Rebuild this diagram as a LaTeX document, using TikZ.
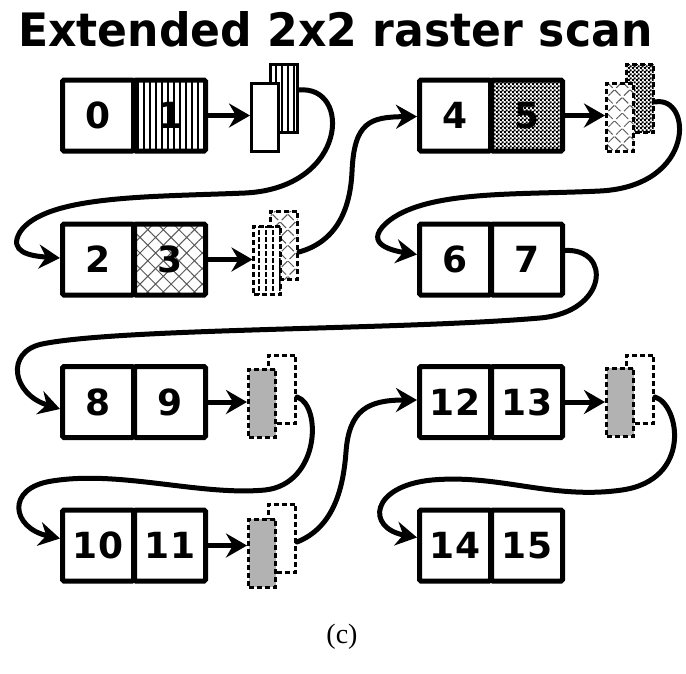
\documentclass[tikz,border=0pt]{standalone}
\usepackage{fontspec}
\usetikzlibrary{arrows.meta,patterns.meta,calc}
\newfontfamily\dv{DejaVu Sans}
\newfontfamily\tnr{Liberation Serif}
\pgfdeclarepattern{
  name=finecheck,
  type=uncolored,
  bottom left={\pgfpoint{0pt}{0pt}},
  top right={\pgfpoint{4pt}{4pt}},
  tile size={\pgfpoint{4pt}{4pt}},
  code={\pgfpathrectangle{\pgfpointorigin}{\pgfpoint{2.4pt}{2.4pt}}\pgfpathrectangle{\pgfpoint{2pt}{2pt}}{\pgfpoint{2.4pt}{2.4pt}}\pgfusepath{fill}}
}
\begin{document}
\begin{tikzpicture}[x=1pt,y=-1pt,
  cell/.style={draw, line width=5pt, rounded corners=1.5pt, minimum width=71pt, minimum height=71pt, inner sep=0pt, font=\dv\bfseries\fontsize{36}{36}\selectfont},
  icon/.style={minimum width=27pt, minimum height=68pt, inner sep=0pt, line width=3pt, draw},
  dicon/.style={icon, dash pattern=on 5pt off 3pt},
  stripes/.style={preaction={fill=white}, pattern={Lines[angle=90,distance=6pt,line width=2.6pt]}},
  widestripes/.style={preaction={fill=white}, pattern={Lines[angle=90,distance=7pt,line width=2pt]}},
  hatch/.style={preaction={fill=white}, pattern={Hatch[angle=45,distance=11pt,line width=1pt]}, pattern color=black!65},
  checker/.style={preaction={fill=white}, pattern=finecheck, pattern color=black},
  grayfill/.style={fill=black!30},
  arr/.style={line width=5pt, -{Stealth[length=21pt,width=24pt,inset=7pt]}},
  conn/.style={line width=5pt, line cap=round, line join=round},
  carr/.style={conn, -{Stealth[length=21pt,width=24pt,inset=7pt]}}
]
\useasboundingbox (0,0) rectangle (686,673);
\node[anchor=base west, inner sep=0pt] (title) at (18,46) {\resizebox{634pt}{35pt}{\dv\bfseries Extended 2x2 raster scan}};

% cells
\node[cell] (c0) at (98,115.5) {0};
\node[cell, stripes] (c1) at (170,115.5) {1};
\node[cell] (c4) at (455,115.5) {4};
\node[cell, checker] (c5) at (527,115.5) {5};
\node[cell] (c2) at (98,259.5) {2};
\node[cell, hatch] (c3) at (170,259.5) {3};
\node[cell] (c6) at (455,259.5) {6};
\node[cell] (c7) at (527,259.5) {7};
\node[cell] (c8) at (98,402) {8};
\node[cell] (c9) at (170,402) {9};
\node[cell] (c12) at (455,402) {12};
\node[cell] (c13) at (527,402) {13};
\node[cell] (c10) at (98,545.5) {10};
\node[cell] (c11) at (170,545.5) {11};
\node[cell] (c14) at (455,545.5) {14};
\node[cell] (c15) at (527,545.5) {15};

% icons
\node[icon, stripes] (b1) at (284,98) {};
\node[icon, fill=white] (f1) at (265,117) {};
\node[dicon, checker] (b3) at (640,98) {};
\node[dicon, hatch] (f3) at (620,117) {};
\node[dicon, hatch] (b2) at (284,245) {};
\node[dicon, widestripes] (f2) at (267,260) {};
\node[dicon, fill=white] (b4) at (282,389) {};
\node[dicon, grayfill] (f4) at (262,403) {};
\node[dicon, fill=white] (b6) at (640,389) {};
\node[dicon, grayfill] (f6) at (620,402) {};
\node[dicon, fill=white] (b5) at (282,538) {};
\node[dicon, grayfill] (f5) at (262,553) {};

% straight arrows
\draw[arr] (c1.east) -- (c1.east -| f1.west);
\draw[arr] (c5.east) -- (c5.east -| f3.west);
\draw[arr] (c3.east) -- (c3.east -| f2.west);
\draw[arr] (c9.east) -- (c9.east -| f4.west);
\draw[arr] (c13.east) -- (c13.east -| f6.west);
\draw[arr] (c11.east) -- (c11.east -| f5.west);

% connector end points
\coordinate (s1) at ($(b1.east)+(0,-8)$);
\coordinate (s2) at ($(b2.east)+(0,7)$);
\coordinate (s3) at ($(b3.east)+(0,4)$);
\coordinate (s4) at ($(c7.east)+(0,-9)$);
\coordinate (s5) at ($(b4.east)+(0,8)$);
\coordinate (s6) at ($(b5.east)+(0,4)$);
\coordinate (s7) at ($(b6.east)+(0,8)$);
\coordinate (e2) at ($(c2.west)+(0,-1.5)$);
\coordinate (e4) at ($(c4.west)+(0,1)$);
\coordinate (e6) at ($(c6.west)+(0,-5)$);
\coordinate (e8) at ($(c8.west)+(0,7)$);
\coordinate (e10) at ($(c10.west)+(0,-7)$);
\coordinate (e12) at ($(c12.west)+(0,-2)$);
\coordinate (e14) at ($(c14.west)+(0,-8)$);

% curved connectors
\draw[carr] (s1) .. controls (352,85) and (348,188) .. (245,193)
  .. controls (150,197) and (45,195) .. (20,232)
  .. controls (8,252) and (30,256) .. (e2);
\draw[carr] (s2) .. controls (335,242) and (350,212) .. (352,172)
  .. controls (354,122) and (370,117) .. (e4);
\draw[carr] (s3) .. controls (692,95) and (697,186) .. (600,191)
  .. controls (520,195) and (430,190) .. (390,220)
  .. controls (362,242) and (388,250) .. (e6);
\draw[carr] (s4) .. controls (612,248) and (608,312) .. (540,318)
  .. controls (400,330) and (120,328) .. (42,344)
  .. controls (5,352) and (12,394) .. (e8);
\draw[carr] (s5) .. controls (322,405) and (320,484) .. (265,490)
  .. controls (200,496) and (120,470) .. (52,481)
  .. controls (5,488) and (12,528) .. (e10);
\draw[carr] (s6) .. controls (332,528) and (343,492) .. (346,452)
  .. controls (349,410) and (368,400) .. (e12);
\draw[carr] (s7) .. controls (680,405) and (692,480) .. (622,490)
  .. controls (552,500) and (500,474) .. (432,480)
  .. controls (370,486) and (366,528) .. (e14);

\node[font=\tnr\fontsize{28}{28}\selectfont] (cap) at (342,637) {(c)};
\end{tikzpicture}
\end{document}
